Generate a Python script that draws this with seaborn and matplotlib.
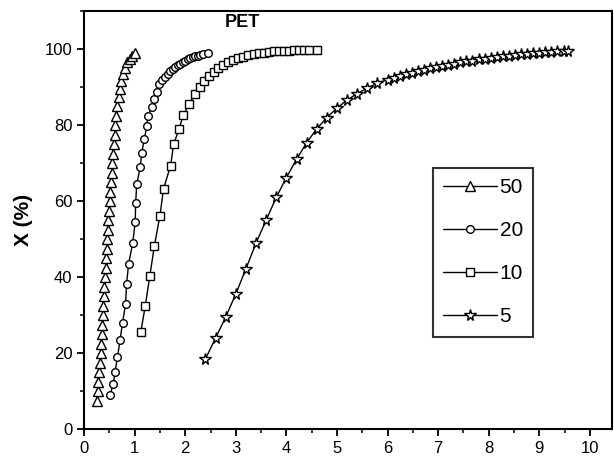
import pandas as pd
import numpy as np
import matplotlib
matplotlib.use("Agg")
import matplotlib.pyplot as plt
import seaborn as sns
from matplotlib.ticker import MultipleLocator

# series: time vs conversion X (%)
x50 = [0.25, 0.27, 0.28, 0.30, 0.31, 0.33, 0.34, 0.35, 0.36, 0.37, 0.38, 0.39, 0.40, 0.42,
       0.43, 0.44, 0.45, 0.46, 0.47, 0.48, 0.50, 0.51, 0.52, 0.53, 0.55, 0.56, 0.58, 0.59,
       0.61, 0.62, 0.64, 0.66, 0.68, 0.70, 0.73, 0.76, 0.80, 0.85, 0.90, 0.95, 1.00]
y50 = [7.5, 10, 12.5, 15, 17.5, 20, 22.5, 25, 27.5, 30, 32.5, 35, 37.5, 40,
       42.5, 45, 47.5, 50, 52.5, 55, 57.5, 60, 62.5, 65, 67.5, 70, 72.5, 75,
       77.5, 80, 82.5, 85, 87.5, 89.5, 91.5, 93.5, 95, 96.5, 97.5, 98.3, 99]

x20 = [0.51, 0.58, 0.61, 0.66, 0.71, 0.76, 0.82, 0.84, 0.88, 0.96, 1.01, 1.02, 1.04, 1.11,
       1.14, 1.19, 1.24, 1.26, 1.34, 1.38, 1.44, 1.49, 1.55, 1.60, 1.65, 1.70, 1.75, 1.80,
       1.85, 1.90, 1.95, 2.00, 2.05, 2.10, 2.15, 2.20, 2.25, 2.30, 2.35, 2.45]
y20 = [8.9, 12, 15, 19, 23.4, 28, 33, 38.3, 43.5, 48.9, 54.4, 59.6, 64.5, 68.9,
       72.8, 76.3, 79.8, 82.4, 84.8, 86.8, 88.7, 90.7, 91.8, 92.7, 93.5, 94.2, 94.8, 95.3,
       95.8, 96.2, 96.6, 97.0, 97.3, 97.6, 97.9, 98.1, 98.3, 98.5, 98.7, 98.9]

x10 = [1.12, 1.21, 1.30, 1.39, 1.50, 1.57, 1.71, 1.77, 1.88, 1.96, 2.08, 2.19, 2.29, 2.37,
       2.46, 2.56, 2.65, 2.75, 2.85, 2.95, 3.05, 3.15, 3.25, 3.35, 3.45, 3.55, 3.65, 3.75,
       3.85, 3.95, 4.05, 4.15, 4.25, 4.35, 4.45, 4.60]
y10 = [25.5, 32.5, 40.4, 48.3, 56.2, 63.3, 69.3, 75, 79, 82.7, 85.6, 88.2, 90, 91.6,
       92.9, 94, 95, 95.8, 96.5, 97.1, 97.6, 98.0, 98.4, 98.7, 98.9, 99.1, 99.3, 99.4,
       99.5, 99.6, 99.6, 99.7, 99.7, 99.7, 99.7, 99.7]

x5 = [2.40, 2.60, 2.80, 3.00, 3.20, 3.40, 3.60, 3.80, 4.00, 4.20, 4.40, 4.60, 4.80, 5.00,
      5.20, 5.40, 5.60, 5.80, 6.00, 6.12, 6.24, 6.36, 6.48, 6.60, 6.72, 6.84, 6.96, 7.08,
      7.20, 7.32, 7.44, 7.56, 7.68, 7.80, 7.92, 8.04, 8.16, 8.28, 8.40, 8.52, 8.64, 8.76,
      8.88, 9.00, 9.12, 9.24, 9.36, 9.48, 9.56]
y5 = [18.5, 24, 29.5, 35.6, 42.2, 49, 55, 61, 66.2, 71, 75.4, 79, 82, 84.5,
      86.6, 88.3, 89.8, 91, 92.0, 92.5, 93.0, 93.4, 93.8, 94.2, 94.6, 95.0, 95.3, 95.6,
      95.9, 96.2, 96.5, 96.8, 97.0, 97.3, 97.5, 97.7, 97.9, 98.1, 98.3, 98.5, 98.6, 98.8,
      98.9, 99.1, 99.2, 99.3, 99.4, 99.5, 99.6]

labels = ["50", "20", "10", "5"]
markers = ["^", "o", "s", "*"]
msizes = [6.5, 5.5, 5.5, 8.5]

sns.set_style("ticks")
plt.rcParams['font.family'] = ['Liberation Sans', 'DejaVu Sans']
plt.rcParams['text.color'] = 'black'
plt.rcParams['axes.labelcolor'] = 'black'
plt.rcParams['xtick.color'] = 'black'
plt.rcParams['ytick.color'] = 'black'

fig = plt.figure(figsize=(6.14, 4.63), dpi=100)
ax = fig.add_axes([0.137, 0.073, 0.859, 0.903])

for xs, ys, lab, m, ms in zip([x50, x20, x10, x5], [y50, y20, y10, y5], labels, markers, msizes):
    d = pd.DataFrame({"t": xs, "X": ys})
    sns.lineplot(data=d, x="t", y="X", sort=False, estimator=None, ax=ax, label=lab,
                 color="black", linewidth=1, marker=m, markersize=ms,
                 markerfacecolor="white", markeredgecolor="black", markeredgewidth=1)

ax.set_xlim(0, 10.43)
ax.set_ylim(0, 110)
ax.xaxis.set_major_locator(MultipleLocator(1))
ax.xaxis.set_minor_locator(MultipleLocator(0.5))
ax.yaxis.set_major_locator(MultipleLocator(20))
ax.yaxis.set_minor_locator(MultipleLocator(10))
ax.tick_params(which="major", direction="out", length=5, width=1.3, labelsize=12)
ax.tick_params(which="minor", direction="out", length=3, width=1.1)
for s in ax.spines.values():
    s.set_linewidth(1.5)
    s.set_color("black")

ax.set_xlabel("")
ax.set_ylabel("X (%)", fontsize=15, fontweight="bold", labelpad=8)
ax.text(3.13, 106.9, "PET", ha="center", va="center", fontsize=13, fontweight="bold")

leg = ax.legend(loc="upper left", bbox_to_anchor=(0.705, 0.637), bbox_transform=fig.transFigure,
                fontsize=15, frameon=True, fancybox=False, handlelength=2.6, handletextpad=0.1,
                labelspacing=1.15, borderpad=0.5, borderaxespad=0)
leg.get_frame().set_edgecolor("black")
leg.get_frame().set_linewidth(1.5)

fig.savefig("out.png", dpi=100)
